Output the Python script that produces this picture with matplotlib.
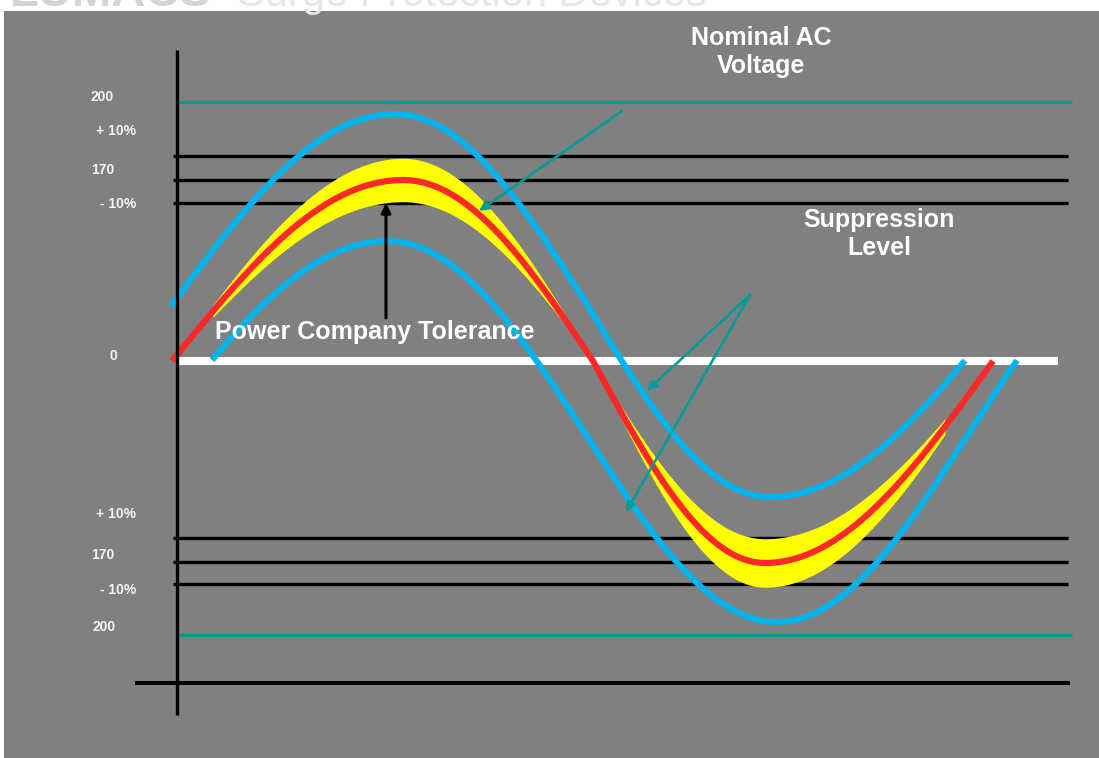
import numpy as np
import matplotlib
matplotlib.use("Agg")
import matplotlib.pyplot as plt

plt.rcParams['font.family'] = ['Liberation Sans', 'DejaVu Sans']

# ---- data (schematic drawing units: x = phase position, y = level above the 0 line) ----
# reference levels (y) and their labels
upper_levels = [205, 181, 158]          # +10%, 170, -10% (black lines, upper half)
lower_levels = [-177, -201, -223]       # +10%, 170, -10% (black lines, lower half)
limit_levels = [259, -274]              # 200 limit lines (teal)
base_level = -322                       # bottom black baseline

label_texts = ["200", "+ 10%", "170", "- 10%", "0", "+ 10%", "170", "- 10%", "200"]
label_y = [264, 230, 191, 157, 5, -153, -194, -229, -266]
label_x = [-75, -61, -74, -59, -64, -61, -74, -59, -73]

# key points of each waveform: alternating inflection / extreme points
red_x = [-5, 226, 416, 588, 816]
red_y = [0, 181, 0, -202, 0]
blue_hi_x = [-6, 218, 411, 593, 832]
blue_hi_y = [55, 247, 55, -136, 55]
blue_lo_x = [-22, 211, 407, 600, 793, 986]
blue_lo_y = [-70.5, 120, -70.5, -261, -70.5, 120]
blue_hi_span = (-6, 788)
blue_lo_span = (35, 840)
tolerance = 0.12                        # +/- band around the nominal wave
band_spans = [(36, 388), (443, 768)]


def wave(xk, yk, x0, x1, n=600):
    """Quarter-sine segments between alternating inflection/extreme key points."""
    xs = np.linspace(x0, x1, n)
    ys = np.empty_like(xs)
    for j, x in enumerate(xs):
        i = np.searchsorted(xk, x, side='right') - 1
        i = min(max(i, 0), len(xk) - 2)
        xa, xb, ya, yb = xk[i], xk[i + 1], yk[i], yk[i + 1]
        t = (x - xa) / (xb - xa)
        if i % 2 == 0:      # inflection -> extreme
            ys[j] = ya + (yb - ya) * np.sin(np.pi / 2 * t)
        else:               # extreme -> inflection
            ys[j] = yb + (ya - yb) * np.sin(np.pi / 2 * (1 - t))
    return xs, ys


W, H = 1099, 758
fig = plt.figure(figsize=(W / 100, H / 100), dpi=100)
fig.patch.set_facecolor('white')

# header text, mostly above the top edge as in the source image
fig.text(10 / W, 1 - 6 / H, "LUMACS", fontsize=34, fontweight='bold',
         color='#d4d4d4', ha='left', va='baseline')
fig.text(237 / W, 1 - 6 / H, "Surge Protection Devices", fontsize=30,
         color='#e6e6e6', ha='left', va='baseline')

left_px, top_px = 4, 11
ax = fig.add_axes([left_px / W, 0, (W - left_px) / W, (H - top_px) / H])
ax.set_facecolor('#808080')
ax.set_xlim(left_px - 177, W - 177)
ax.set_ylim(361 - H, 361 - top_px)
ax.set_xticks([])
ax.set_yticks([])
for s in ax.spines.values():
    s.set_visible(False)

BLACK, TEAL, BLUE, RED, YEL = '#000000', '#009C96', '#00B4F0', '#FF2828', '#FFFF00'

# level lines
for yv in upper_levels + lower_levels:
    ax.plot([-4, 891], [yv, yv], color=BLACK, lw=2.4, solid_capstyle='butt', zorder=2)
for yv in limit_levels:
    ax.plot([0, 895], [yv, yv], color=TEAL, lw=2.3, solid_capstyle='butt', zorder=2)
ax.plot([-42, 893], [base_level, base_level], color=BLACK, lw=2.9,
        solid_capstyle='butt', zorder=2)
ax.plot([0, 881], [0, 0], color='white', lw=5.8, solid_capstyle='butt', zorder=2)

# suppression curves
xs, ys = wave(blue_hi_x, blue_hi_y, *blue_hi_span)
ax.plot(xs, ys, color=BLUE, lw=4.4, solid_capstyle='butt', zorder=3)
xs, ys = wave(blue_lo_x, blue_lo_y, *blue_lo_span)
ax.plot(xs, ys, color=BLUE, lw=4.4, solid_capstyle='butt', zorder=3)

# tolerance band
for a, b in band_spans:
    bx, by = wave(red_x, red_y, a, b)
    ax.fill_between(bx, by * (1 - tolerance), by * (1 + tolerance),
                    color=YEL, lw=0, zorder=4)

# nominal wave
xs, ys = wave(red_x, red_y, red_x[0], red_x[-1])
ax.plot(xs, ys, color=RED, lw=4.5, solid_capstyle='butt', zorder=5)

# y axis line
ax.plot([0, 0], [311, -354], color=BLACK, lw=2.4, solid_capstyle='butt', zorder=6)

# arrows
arrow_kw = dict(arrowstyle='-|>', mutation_scale=14, shrinkA=0, shrinkB=0)
ax.annotate("", xy=(302, 150), xytext=(445, 250),
            arrowprops=dict(color=TEAL, lw=1.9, **arrow_kw), zorder=7)
ax.annotate("", xy=(470, -30), xytext=(573, 66),
            arrowprops=dict(color=TEAL, lw=1.9, **arrow_kw), zorder=7)
ax.annotate("", xy=(449, -151), xytext=(573, 66),
            arrowprops=dict(color=TEAL, lw=1.9, **arrow_kw), zorder=7)
ax.annotate("", xy=(209, 158), xytext=(209, 43),
            arrowprops=dict(color=BLACK, lw=2.2, **arrow_kw), zorder=7)

# labels
big = dict(color='white', fontsize=18, fontweight='bold', ha='center', va='center',
           zorder=8, linespacing=1.2)
ax.text(584, 309, "Nominal AC\nVoltage", **big)
ax.text(702, 127, "Suppression\nLevel", **big)
ax.text(198, 29, "Power Company Tolerance", **big)

for t, xv, yv in zip(label_texts, label_x, label_y):
    ax.text(xv, yv, t, color='#f4f4f4', fontsize=10, fontweight='bold',
            ha='center', va='center', zorder=8)

fig.savefig("out.png", dpi=100, facecolor=fig.get_facecolor())
